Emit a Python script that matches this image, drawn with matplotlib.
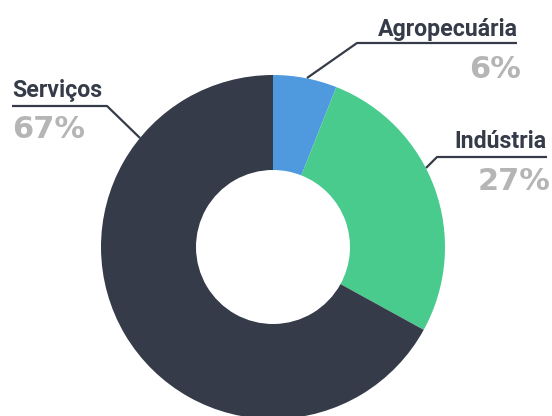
import matplotlib
matplotlib.use("Agg")
import matplotlib.pyplot as plt

categories = ["Agropecuária", "Indústria", "Serviços"]
values = [6, 27, 67]
colors = ["#4f9ade", "#48cb8d", "#353b48"]

DARK = "#353b48"
GRAY = "#b5b5b5"
H = 416

fig = plt.figure(figsize=(5.52, 4.16), dpi=100)
ax = fig.add_axes([0, 0, 1, 1])

ax.pie(values, colors=colors, startangle=90, counterclock=False,
       radius=172, center=(273, H - 247),
       wedgeprops=dict(width=95, linewidth=0))
ax.set_xlim(0, 552)
ax.set_ylim(0, H)
ax.set_aspect("equal")
ax.axis("off")

# leader lines (pixel coords, y from top)
leaders = {
    "Agropecuária": [(307, 78), (357, 43), (517, 43)],
    "Indústria": [(426, 168), (437, 157), (547, 157)],
    "Serviços": [(140, 138), (107, 106), (12, 106)],
}
# label anchors: (x, name baseline y, pct baseline y, ha)
anchors = {
    "Agropecuária": (518, 36, 78, "right"),
    "Indústria": (547, 148, 190, "right"),
    "Serviços": (12, 97, 138, "left"),
}

for cat, val in zip(categories, values):
    pts = leaders[cat]
    ax.plot([p[0] for p in pts], [H - p[1] for p in pts], color=DARK, lw=1.6,
            solid_capstyle="butt")
    x, yn, yp, ha = anchors[cat]
    ax.text(x, H - yn, cat, ha=ha, va="baseline", fontsize=16.7,
            fontweight="bold", color=DARK, family="Roboto")
    ax.text(x + (3 if ha == "right" else 0), H - yp, f"{val}%", ha=ha,
            va="baseline", fontsize=22, fontweight="heavy", color=GRAY,
            family="DejaVu Sans")

fig.savefig("out.png", dpi=100)
